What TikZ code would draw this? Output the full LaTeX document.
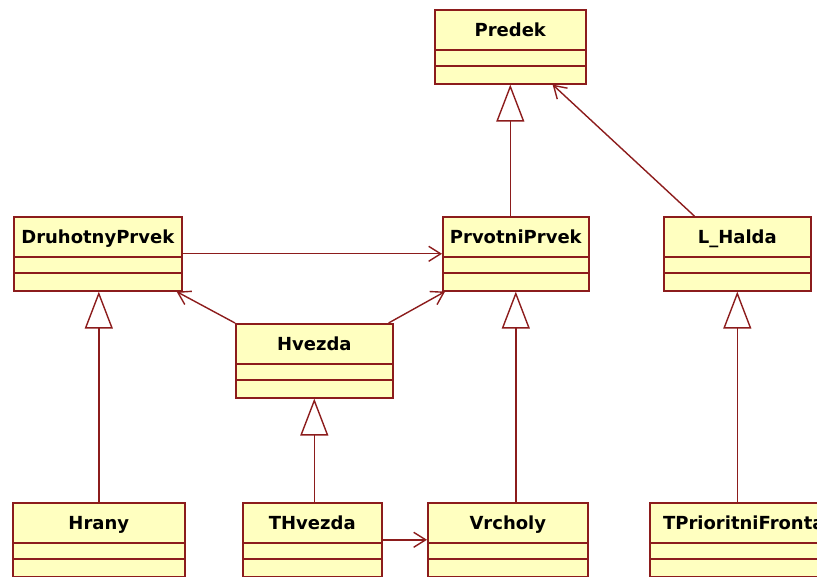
\documentclass[tikz,border=0pt]{standalone}
\usepackage{fontspec}
\setmainfont{DejaVu Sans}
\usepackage{tikz}
\usetikzlibrary{arrows.meta,positioning}
\definecolor{hrana}{RGB}{140,28,28}
\definecolor{vypln}{RGB}{255,255,192}
\tikzset{
  trida/.style={draw=hrana, fill=vypln, line width=1.6pt, anchor=north west,
    inner ysep=0pt, text height=27pt, text depth=47pt, font=\fontsize{18}{20}\bfseries,
    path picture={
      \draw[hrana, line width=1.6pt] ([yshift=-40pt]path picture bounding box.north west) -- ([yshift=-40pt]path picture bounding box.north east);
      \draw[hrana, line width=1.6pt] ([yshift=-56pt]path picture bounding box.north west) -- ([yshift=-56pt]path picture bounding box.north east);
    }},
  dedi/.style={draw=hrana, line width=1.4pt, -{Triangle[open, length=37pt, width=28pt]}},
  asoc/.style={draw=hrana, line width=1.4pt, -{Straight Barb[length=12pt, width=15pt]}}
}

\begin{document}
\begin{tikzpicture}[x=1pt, y=-1pt]
\useasboundingbox (0,0) rectangle (817,577);
% tridy
\node[trida, minimum width=151pt] (predek) at (434,9) {Predek};
\node[trida, minimum width=168pt] (druhotny) at (13,216) {DruhotnyPrvek};
\node[trida, minimum width=146pt] (prvotni) at (442,216) {PrvotniPrvek};
\node[trida, minimum width=147pt] (lhalda) at (663,216) {L\_Halda};
\node[trida, minimum width=157pt] (hvezda) at (235,323) {Hvezda};
\node[trida, minimum width=172pt] (hrany) at (12,502) {Hrany};
\node[trida, minimum width=139pt] (thvezda) at (242,502) {THvezda};
\node[trida, minimum width=160pt] (vrcholy) at (427,502) {Vrcholy};
\node[trida, minimum width=188pt] (fronta) at (649,502) {TPrioritniFronta};
% dedicnost
\draw[dedi] (predek.south |- prvotni.north) -- (predek.south);
\draw[dedi] (hrany.north) -- (hrany.north |- druhotny.south);
\draw[dedi] (thvezda.north -| hvezda.south) -- (hvezda.south);
\draw[dedi] (vrcholy.north -| prvotni.south) -- (prvotni.south);
\draw[dedi] (fronta.north -| lhalda.south) -- (lhalda.south);
% asociace
\draw[asoc] (druhotny.east) -- (prvotni.west);
\draw[asoc] (hvezda.north west) -- ([xshift=-6pt]druhotny.south east);
\draw[asoc] ([xshift=-5pt]hvezda.north east) -- ([xshift=3pt]prvotni.south west);
\draw[asoc] ([xshift=-43pt]lhalda.north) -- ([xshift=-34pt]predek.south east);
\draw[asoc] (thvezda.east) -- (vrcholy.west);
\end{tikzpicture}
\end{document}
